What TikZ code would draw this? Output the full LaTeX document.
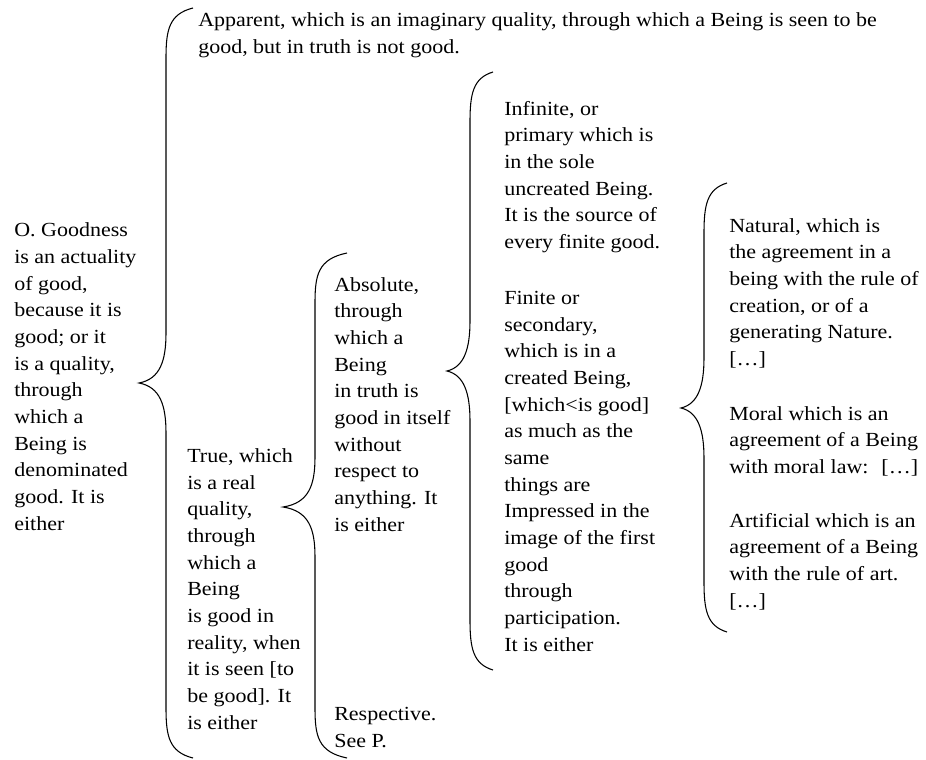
\documentclass[tikz,border=0pt]{standalone}
\usepackage{fontspec}
\setmainfont[FakeStretch=1.1]{Liberation Serif}
% #1 tip x, #2 tip y, #3 top y, #4 bottom y, #5 half width
\newcommand{\gbrace}[5]{%
  \draw[bracepath] ({#1+2*#5},#3)
    .. controls ({#1+#5+3},{#3+6}) and ({#1+#5},{#3+22}) .. ({#1+#5},{#3+50})
    -- ({#1+#5},{#2-50})
    .. controls ({#1+#5},{#2-22}) and ({#1+#5-6},{#2-4}) .. (#1,#2)
    .. controls ({#1+#5-6},{#2+4}) and ({#1+#5},{#2+22}) .. ({#1+#5},{#2+50})
    -- ({#1+#5},{#4-50})
    .. controls ({#1+#5},{#4-22}) and ({#1+#5+3},{#4-6}) .. ({#1+2*#5},#4);}
\begin{document}
\begin{tikzpicture}
	[x=0.75pt,y=-0.75pt,
	every node/.style={anchor=base west,inner sep=0pt,align=left,font=\fontsize{15}{20}\selectfont},
	bracepath/.style={line width=0.8pt}]
	\useasboundingbox (0,0) rectangle (926,760);
	% nodes sit on the baseline of their last line
	\node (goodness) at (14,530) {O. Goodness\\is an actuality\\of good,\\because it is\\good; or it\\is a quality,\\through\\which a\\Being is\\denominated\\good. It is\\either};
	\node (apparent) at (198,53.5) {Apparent, which is an imaginary quality, through which a Being is seen to be\\good, but in truth is not good.};
	\node (truegood) at (187,729) {True, which\\is a real\\quality,\\through\\which a\\Being\\is good in\\reality, when\\it is seen [to\\be good]. It\\is either};
	\node (absolute) at (334,531) {Absolute,\\through\\which a\\Being\\in truth is\\good in itself\\without\\respect to\\anything. It\\is either};
	\node (respective) at (334,747) {Respective.\\See P.};
	\node (infinite) at (504,248.5) {Infinite, or\\primary which is\\in the sole\\uncreated Being.\\It is the source of\\every finite good.};
	\node (finite) at (504,651) {Finite or\\secondary,\\which is in a\\created Being,\\{[which<is good]}\\as much as the\\same\\things are\\Impressed in the\\image of the first\\good\\through\\participation.\\It is either};
	\node (natural) at (729,365.5) {Natural, which is\\the agreement in a\\being with the rule of\\creation, or of a\\generating Nature.\\{[…]}};
	\node (moral) at (729,473.5) {Moral which is an\\agreement of a Being\\with moral law: \ […]};
	\node (artificial) at (729,607) {Artificial which is an\\agreement of a Being\\with the rule of art.\\{[…]}};
	% braces
	\gbrace{139}{383}{8}{758}{27}
	\gbrace{283}{507}{253}{758}{32}
	\gbrace{447}{371}{72}{670}{23}
	\gbrace{681}{408}{183}{632}{23}
\end{tikzpicture}
\end{document}
